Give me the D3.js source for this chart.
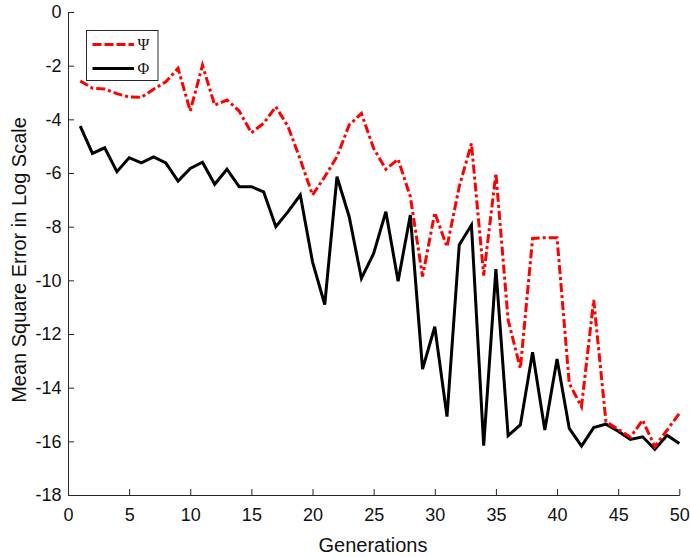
<!DOCTYPE html>
<html>
<head>
<meta charset="utf-8">
<script src="https://cdn.jsdelivr.net/npm/d3@7/dist/d3.min.js"></script>
<style>
  html, body { margin: 0; padding: 0; background: #fff; }
  svg { display: block; }
</style>
</head>
<body>
<script>
// Generations 1..50
const generations = d3.range(1, 51);

// log-scale MSE of the two estimates
const psiValues = [
  -2.57, -2.84, -2.87, -3.04, -3.17, -3.18, -2.88, -2.60, -2.10, -3.69,
  -1.98, -3.47, -3.28, -3.69, -4.50, -4.15, -3.53, -4.27, -5.50, -6.82,
  -6.14, -5.39, -4.21, -3.78, -5.08, -5.86, -5.49, -6.88, -9.86, -7.48,
  -8.75, -6.51, -4.90, -9.82, -6.01, -11.48, -13.28, -8.44, -8.41, -8.41,
  -13.84, -14.71, -10.73, -15.27, -15.55, -15.85, -15.21, -16.20, -15.58, -14.96
];
const phiValues = [
  -4.25, -5.27, -5.06, -5.95, -5.43, -5.62, -5.40, -5.62, -6.30, -5.83,
  -5.60, -6.42, -5.86, -6.51, -6.51, -6.70, -8.00, -7.44, -6.82, -9.31,
  -10.90, -6.14, -7.63, -9.93, -9.00, -7.44, -10.03, -7.57, -13.31, -11.73,
  -15.08, -8.68, -7.94, -16.16, -9.58, -15.79, -15.39, -12.68, -15.58, -12.93,
  -15.52, -16.18, -15.49, -15.36, -15.62, -15.93, -15.83, -16.30, -15.77, -16.08
];

const xTicks = [0, 5, 10, 15, 20, 25, 30, 35, 40, 45, 50];
const yTicks = [0, -2, -4, -6, -8, -10, -12, -14, -16, -18];

const W = 690, H = 557;
const plotLeft = 68, plotRight = 679.3, plotTop = 12, plotBottom = 495;
const axisColor = "#262626";
const sansFont = '"Liberation Sans", Arial, Helvetica, sans-serif';

const svg = d3.select("body").append("svg")
  .attr("width", W).attr("height", H);

const x = d3.scaleLinear().domain([0, 50]).range([plotLeft, plotRight]);
const y = d3.scaleLinear().domain([-18, 0]).range([plotBottom, plotTop]);

// axes with inward ticks, plain hyphen for negative labels
const xAxis = svg.append("g")
  .attr("transform", `translate(0,${plotBottom})`)
  .call(d3.axisBottom(x).tickValues(xTicks).tickFormat(d => String(d))
    .tickSizeInner(-6).tickSizeOuter(0).tickPadding(13));
const yAxis = svg.append("g")
  .attr("transform", `translate(${plotLeft},0)`)
  .call(d3.axisLeft(y).tickValues(yTicks).tickFormat(d => String(d))
    .tickSizeInner(-6).tickSizeOuter(0).tickPadding(6.5));

[xAxis, yAxis].forEach(g => {
  g.select(".domain").attr("stroke", axisColor).attr("stroke-width", 1);
  g.selectAll(".tick line").attr("stroke", axisColor).attr("stroke-width", 1);
  g.selectAll(".tick text").attr("fill", "#111").attr("font-size", 18).attr("font-family", sansFont);
});

// axis titles
svg.append("text")
  .attr("x", 373).attr("y", 552)
  .attr("text-anchor", "middle")
  .attr("font-family", sansFont).attr("font-size", 20).attr("fill", "#111")
  .text("Generations");
svg.append("text")
  .attr("transform", `translate(25.5,260) rotate(-90)`)
  .attr("text-anchor", "middle")
  .attr("font-family", sansFont).attr("font-size", 20).attr("fill", "#111")
  .text("Mean Square Error in Log Scale");

const line = d3.line().x((d, i) => x(generations[i])).y(d => y(d));

svg.append("path")
  .datum(phiValues)
  .attr("d", line)
  .attr("fill", "none").attr("stroke", "#000").attr("stroke-width", 3);

svg.append("path")
  .datum(psiValues)
  .attr("d", line)
  .attr("fill", "none").attr("stroke", "#ff0000").attr("stroke-width", 3)
  .attr("stroke-dasharray", "9,3,3,3");

// legend
const legend = svg.append("g");
legend.append("rect")
  .attr("x", 86.5).attr("y", 30.5).attr("width", 71.5).attr("height", 50)
  .attr("fill", "#fff").attr("stroke", axisColor).attr("stroke-width", 1);
const entries = [
  { name: "\u03A8", color: "#ff0000", dash: "9,3" },
  { name: "\u03A6", color: "#000", dash: null }
];
entries.forEach((e, i) => {
  const yy = 44.5 + i * 24;
  legend.append("line")
    .attr("x1", 92.5).attr("x2", 134).attr("y1", yy).attr("y2", yy)
    .attr("stroke", e.color).attr("stroke-width", 3)
    .attr("stroke-dasharray", e.dash);
  legend.append("text")
    .attr("x", 137.5).attr("y", yy + 5.5)
    .attr("font-family", '"Liberation Serif", "Times New Roman", serif')
    .attr("font-size", 16).attr("fill", "#111")
    .text(e.name);
});
</script>
</body>
</html>
